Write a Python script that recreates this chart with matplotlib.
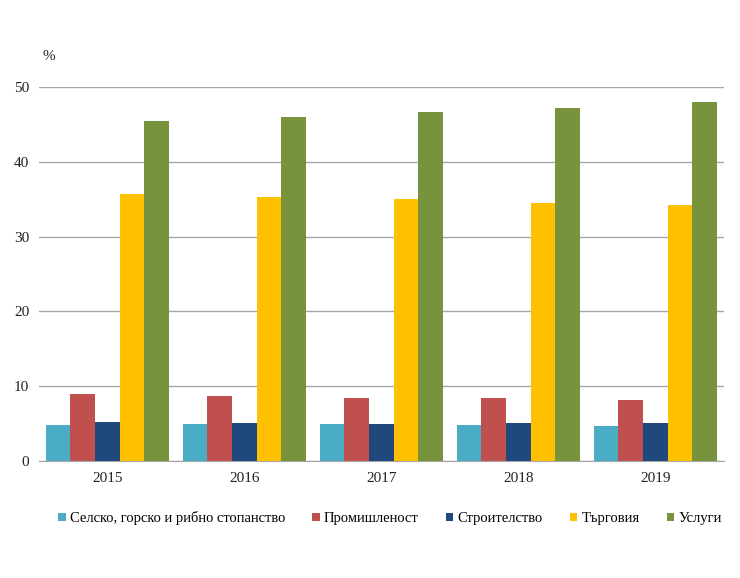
import numpy as np
from matplotlib import pyplot as plt

years = ["2015", "2016", "2017", "2018", "2019"]
sectors = ["Селско, горско и рибно стопанство", "Промишленост", "Строителство", "Търговия", "Услуги"]
agri = [4.8, 4.9, 4.9, 4.8, 4.7]
industry = [8.9, 8.7, 8.4, 8.4, 8.2]
construction = [5.2, 5.1, 4.9, 5.1, 5.1]
trade = [35.7, 35.3, 35.0, 34.5, 34.2]
services = [45.5, 46.0, 46.7, 47.2, 48.0]
colors = ["#4BACC6", "#C0504D", "#1F497D", "#FFC000", "#77933C"]

plt.rcParams['font.family'] = ['Liberation Serif', 'DejaVu Serif']

fig = plt.figure(figsize=(7.4, 5.78), dpi=100)
ax = fig.add_axes([0.0527, 0.2024, 0.9253, 0.647])

x = np.arange(len(years))
w = 0.18
series = [agri, industry, construction, trade, services]
for i, vals in enumerate(series):
    ax.bar(x + (i - 2) * w, vals, w, color=colors[i], label=sectors[i], zorder=3)

ax.set_xlim(-0.5, 4.5)
ax.set_ylim(0, 50)
ax.set_yticks([0, 10, 20, 30, 40, 50])
ax.set_xticks(x)
ax.set_xticklabels(years)
ax.yaxis.grid(True, color="#A6A6A6", linewidth=1, zorder=0)
ax.set_axisbelow(True)
for s in ["top", "right", "left"]:
    ax.spines[s].set_visible(False)
ax.spines["bottom"].set_color("#A6A6A6")
ax.tick_params(axis="both", length=0, labelsize=11, colors="#222222")
ax.tick_params(axis="x", pad=8)
ax.tick_params(axis="y", pad=7)

fig.text(0.058, 0.897, "%", fontsize=11, color="#222222")

fig.legend(loc="center", bbox_to_anchor=(0.527, 0.104), ncol=5, frameon=False,
           fontsize=10.5, handlelength=0.5, handleheight=0.5, handletextpad=0.3,
           columnspacing=1.85)

fig.savefig("out.png", dpi=100)
